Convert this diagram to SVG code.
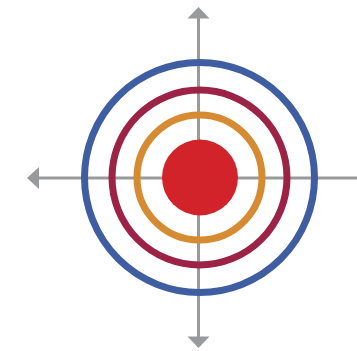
<svg xmlns="http://www.w3.org/2000/svg" width="357" height="351" viewBox="0 0 357 351">
<style>
.axis{stroke:#999a9c;stroke-width:3;fill:none}
.head{fill:#999a9c}
.ring{fill:none;stroke-width:7}
</style>
<rect width="357" height="351" fill="#ffffff"/>
<g id="connectors">
<line class="axis" x1="198.5" y1="16" x2="198.5" y2="339"/>
<line class="axis" x1="37" y1="178" x2="357" y2="178"/>
<polygon class="head" points="198.5,7 209.5,18.5 187.5,18.5"/>
<polygon class="head" points="198.5,348 209.5,336.5 187.5,336.5"/>
<polygon class="head" points="27,178 39,167 39,189"/>
</g>
<g id="ring-blue"><circle class="ring" cx="199.5" cy="177.5" r="115" stroke="#3f5da1"/></g>
<g id="ring-crimson"><circle class="ring" cx="199.5" cy="177.5" r="87.5" stroke="#9c2246"/></g>
<g id="ring-orange"><circle class="ring" cx="199.5" cy="177.5" r="62.5" stroke="#d68b33"/></g>
<g id="center-dot"><circle cx="200" cy="177.5" r="38" fill="#d2232b"/></g>
</svg>
